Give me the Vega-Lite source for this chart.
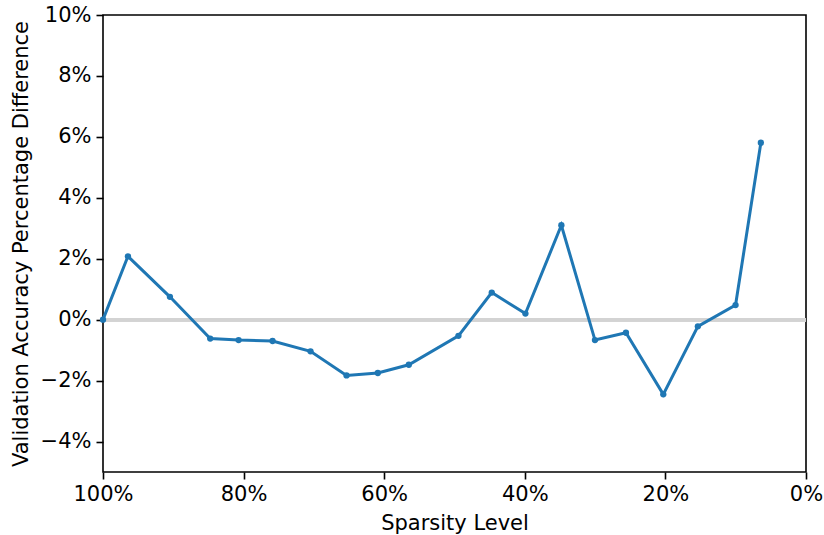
{
  "$schema": "https://vega.github.io/schema/vega-lite/v6.json",
  "width": 703,
  "height": 457,
  "autosize": {"type": "none"},
  "padding": {"left": 103, "top": 15, "right": 18, "bottom": 63},
  "background": "white",
  "config": {
    "font": "DejaVu Sans",
    "view": {"stroke": "black", "strokeWidth": 1.6},
    "axis": {
      "domain": false,
      "grid": false,
      "tickColor": "black",
      "tickWidth": 1.6,
      "tickSize": 7,
      "labelFont": "DejaVu Sans",
      "labelFontSize": 21,
      "labelColor": "black",
      "labelFlush": false,
      "titleFont": "DejaVu Sans",
      "titleFontSize": 21,
      "titleFontWeight": "normal",
      "titleColor": "black"
    }
  },
  "data": {
    "values": [
      {"sparsity": 100.0, "diff": 0.0},
      {"sparsity": 96.45, "diff": 2.08},
      {"sparsity": 90.48, "diff": 0.75},
      {"sparsity": 84.75, "diff": -0.62},
      {"sparsity": 80.71, "diff": -0.67},
      {"sparsity": 75.88, "diff": -0.70},
      {"sparsity": 70.48, "diff": -1.04},
      {"sparsity": 65.36, "diff": -1.83},
      {"sparsity": 60.91, "diff": -1.75},
      {"sparsity": 56.50, "diff": -1.48},
      {"sparsity": 49.44, "diff": -0.53},
      {"sparsity": 44.70, "diff": 0.89},
      {"sparsity": 39.91, "diff": 0.20},
      {"sparsity": 34.80, "diff": 3.10},
      {"sparsity": 30.02, "diff": -0.67},
      {"sparsity": 25.61, "diff": -0.43},
      {"sparsity": 20.30, "diff": -2.45},
      {"sparsity": 15.38, "diff": -0.22},
      {"sparsity": 10.02, "diff": 0.48},
      {"sparsity": 6.42, "diff": 5.81}
    ]
  },
  "layer": [
    {
      "mark": {"type": "rule", "color": "#d3d3d3", "strokeWidth": 3},
      "encoding": {"y": {"datum": 0, "type": "quantitative"}}
    },
    {
      "mark": {
        "type": "line",
        "color": "#1f77b4",
        "strokeWidth": 3,
        "point": {"filled": true, "size": 40, "color": "#1f77b4"}
      },
      "encoding": {
        "x": {
          "field": "sparsity",
          "type": "quantitative",
          "title": "Sparsity Level",
          "scale": {"domain": [100, 0], "nice": false, "zero": false},
          "axis": {
            "values": [100, 80, 60, 40, 20, 0],
            "labelExpr": "format(datum.value, 'd') + '%'",
            "labelPadding": 4,
            "titlePadding": 8
          }
        },
        "y": {
          "field": "diff",
          "type": "quantitative",
          "title": "Validation Accuracy Percentage Difference",
          "scale": {"domain": [-5, 10], "nice": false, "zero": false},
          "axis": {
            "values": [-4, -2, 0, 2, 4, 6, 8, 10],
            "labelExpr": "format(datum.value, 'd') + '%'",
            "labelPadding": 5,
            "titlePadding": 9
          }
        }
      }
    }
  ]
}
